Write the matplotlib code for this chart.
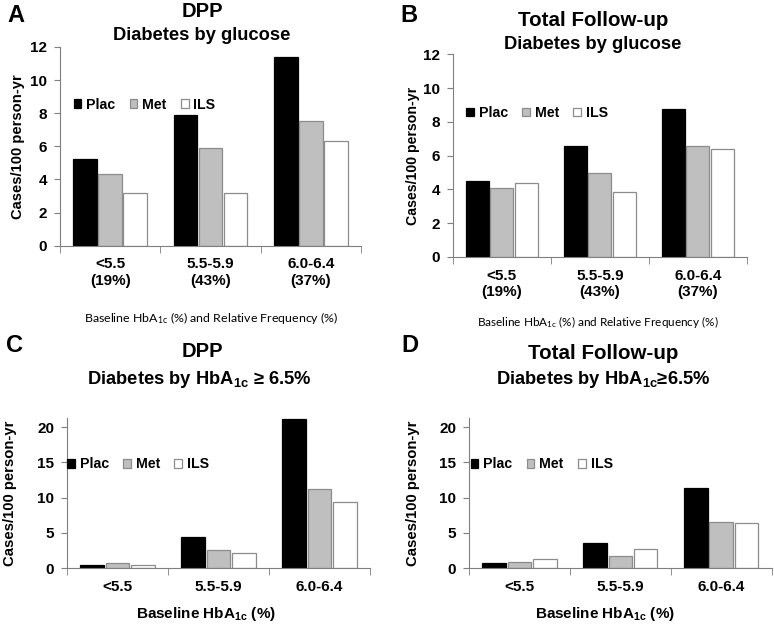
import numpy as np
import matplotlib
matplotlib.use("Agg")
import matplotlib.pyplot as plt

plt.rcParams["font.family"] = ["Liberation Sans", "DejaVu Sans"]
plt.rcParams["font.weight"] = "bold"
plt.rcParams["mathtext.default"] = "regular"

groups = ["Plac", "Met", "ILS"]
cats_freq = ["<5.5\n(19%)", "5.5-5.9\n(43%)", "6.0-6.4\n(37%)"]
cats = ["<5.5", "5.5-5.9", "6.0-6.4"]

dpp_glucose = {"Plac": [5.25, 7.9, 11.4], "Met": [4.35, 5.9, 7.5], "ILS": [3.15, 3.2, 6.3]}
tot_glucose = {"Plac": [4.5, 6.6, 8.75], "Met": [4.1, 5.0, 6.6], "ILS": [4.4, 3.85, 6.4]}
dpp_a1c = {"Plac": [0.45, 4.4, 21.1], "Met": [0.7, 2.55, 11.2], "ILS": [0.45, 2.2, 9.4]}
tot_a1c = {"Plac": [0.7, 3.5, 11.3], "Met": [0.8, 1.75, 6.5], "ILS": [1.3, 2.7, 6.4]}

fill = {"Plac": "black", "Met": "#bfbfbf", "ILS": "white"}
edge = {"Plac": "black", "Met": "#8c8c8c", "ILS": "#8c8c8c"}
axcol = "#7f7f7f"

fig = plt.figure(figsize=(7.74, 6.25), dpi=100)


def panel(rect, data, labels, ylim, yticks, leg_xy, ylab_size):
    ax = fig.add_axes(rect)
    x = np.arange(len(labels))
    for i, g in enumerate(groups):
        ax.bar(x + (i - 1) * 0.25, data[g], width=0.235, color=fill[g],
               edgecolor=edge[g], linewidth=0.9, label=g)
    ax.set_xlim(-0.5, len(labels) - 0.5)
    ax.set_ylim(*ylim)
    ax.set_yticks(yticks)
    ax.set_xticks(x)
    ax.set_xticklabels(labels, fontsize=11, fontweight="bold")
    ax.set_xticks(np.arange(-0.5, len(labels)), minor=True)
    ax.tick_params(axis="x", which="major", length=0, pad=8.5)
    ax.tick_params(axis="x", which="minor", length=5, color=axcol, direction="out")
    ax.tick_params(axis="y", length=4.3, color=axcol, labelsize=11, pad=5)
    for s in ["top", "right"]:
        ax.spines[s].set_visible(False)
    for s in ["left", "bottom"]:
        ax.spines[s].set_color(axcol)
    ax.set_ylabel("Cases/100 person-yr", fontsize=ylab_size, fontweight="bold")
    ax.legend(loc="center left", bbox_to_anchor=leg_xy, ncol=3, frameon=False,
              handlelength=0.55, handleheight=0.55, handletextpad=0.35,
              columnspacing=1.0, borderaxespad=0, borderpad=0,
              prop={"weight": "bold", "size": 10.2})
    return ax


axA = panel([0.0775, 0.607, 0.389, 0.318], dpp_glucose, cats_freq,
            (0, 12), range(0, 13, 2), (0.045, 0.71), 10.6)
axB = panel([0.585, 0.589, 0.380, 0.324], tot_glucose, cats_freq,
            (0, 12), range(0, 13, 2), (0.045, 0.71), 10.2)
axC = panel([0.0866, 0.0912, 0.3915, 0.240], dpp_a1c, cats,
            (0, 21.3), range(0, 21, 5), (0.0, 0.69), 10.7)
axD = panel([0.606, 0.0912, 0.391, 0.240], tot_a1c, cats,
            (0, 21.3), range(0, 21, 5), (0.005, 0.69), 10.7)

axA.yaxis.set_label_coords(-0.115, 0.5)
axB.yaxis.set_label_coords(-0.112, 0.5)
axC.yaxis.set_label_coords(-0.165, 0.5)
axD.yaxis.set_label_coords(-0.162, 0.5)

freq_label = "Baseline HbA$_{1c}$ (%) and Relative Frequency (%)"
fig.text(0.273, 0.491, freq_label, ha="center", va="center", fontsize=8.9,
         fontweight="normal", family=["Lato", "DejaVu Sans"])
fig.text(0.773, 0.484, freq_label, ha="center", va="center", fontsize=8.5,
         fontweight="normal", family=["Lato", "DejaVu Sans"])
axC.set_xlabel("Baseline HbA$_{1c}$ (%)", fontsize=11, fontweight="bold")
axD.set_xlabel("Baseline HbA$_{1c}$ (%)", fontsize=11, fontweight="bold")
axC.xaxis.set_label_coords(0.46, -0.245)
axD.xaxis.set_label_coords(0.45, -0.245)

# panel letters
for lbl, xx, yy in [("A", 0.010, 0.975), ("B", 0.517, 0.975),
                    ("C", 0.008, 0.448), ("D", 0.518, 0.448)]:
    fig.text(xx, yy, lbl, fontsize=17, fontweight="bold", ha="left", va="center")

# titles
fig.text(0.261, 0.982, "DPP", fontsize=14.5, fontweight="bold", ha="center", va="center")
fig.text(0.261, 0.944, "Diabetes by glucose", fontsize=13.2, fontweight="bold",
         ha="center", va="center")
fig.text(0.766, 0.968, "Total Follow-up", fontsize=14.8, fontweight="bold",
         ha="center", va="center")
fig.text(0.766, 0.929, "Diabetes by glucose", fontsize=13.2, fontweight="bold",
         ha="center", va="center")
fig.text(0.261, 0.437, "DPP", fontsize=14.5, fontweight="bold", ha="center", va="center")
fig.text(0.258, 0.393, "Diabetes by HbA$_{1c}$ \u2265 6.5%", fontsize=13.2,
         fontweight="bold", ha="center", va="center")
fig.text(0.779, 0.435, "Total Follow-up", fontsize=14.8, fontweight="bold",
         ha="center", va="center")
fig.text(0.779, 0.393, "Diabetes by HbA$_{1c}$\u22656.5%", fontsize=13.2,
         fontweight="bold", ha="center", va="center")

fig.savefig("out.png", dpi=100)
